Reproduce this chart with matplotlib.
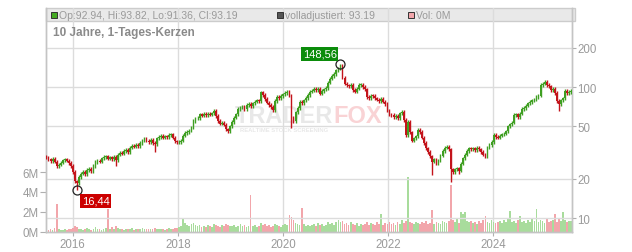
import numpy as np
import pandas as pd
import matplotlib
matplotlib.use('Agg')
import matplotlib.pyplot as plt
import matplotlib.dates as mdates
from matplotlib.patches import Rectangle

plt.rcParams['font.family'] = ['Liberation Sans', 'DejaVu Sans']

# ── data: closes, roughly one candle per two weeks ─────────────────────────────
close_blocks = [
    [29.0, 28.0, 27.2, 28.3, 27.0, 24.8, 25.5, 26.5, 27.6, 28.0, 27.4, 26.3, 25.0],
    [22.5, 19.0, 18.5, 20.5, 21.8, 22.5, 21.5, 23.2, 23.8, 22.8, 25.0, 26.8, 27.2],
    [27.0, 28.5, 29.2, 29.6, 28.4, 29.0, 28.3, 29.4, 27.5, 30.5, 31.5, 31.0, 32.5],
    [33.0, 32.0, 34.5, 35.5, 35.0, 36.0, 35.5, 37.5, 39.0, 40.0, 39.0, 38.0, 39.5],
    [37.5, 36.5, 40.5, 41.5, 42.5, 41.0, 42.0, 41.5, 43.0, 43.5, 41.0, 38.5, 37.8],
    [38.0, 39.0, 42.5, 44.5, 45.5, 46.5, 49.0, 55.0, 57.5, 58.0, 62.0, 60.5, 62.5],
    [61.0, 62.5, 61.5, 63.0, 66.0, 60.0, 55.0, 52.5, 53.5, 51.5, 47.5, 46.0, 50.0],
    [54.0, 58.5, 62.0, 68.0, 69.5, 70.5, 68.0, 73.0, 74.5, 71.5, 75.0, 77.5, 79.0],
    [78.0, 91.0, 87.0, 81.0, 76.0, 73.0, 70.5, 66.5, 78.0, 84.0, 82.0, 85.5, 88.0],
    [90.0, 91.5, 86.0, 58.0, 55.0, 64.0, 69.0, 77.0, 75.5, 79.0, 82.5, 87.0, 92.0],
    [94.0, 96.5, 94.5, 97.0, 89.0, 93.5, 96.0, 98.0, 108.0, 116.0, 121.0, 126.0, 134.0],
    [138.0, 145.0, 118.0, 106.0, 103.0, 101.0, 104.5, 95.0, 92.0, 97.0, 103.5, 104.0, 100.0],
    [96.0, 84.0, 82.0, 86.0, 85.5, 82.0, 80.0, 78.0, 81.0, 77.5, 74.0, 66.0, 62.0],
    [61.0, 59.0, 60.5, 58.0, 63.0, 64.5, 56.0, 43.0, 54.0, 45.0, 39.0, 40.5, 42.0],
    [47.0, 45.5, 41.0, 37.5, 34.0, 32.0, 29.5, 27.0, 28.0, 26.0, 27.5, 30.0, 32.5],
    [34.5, 35.0, 33.5, 23.5, 22.5, 23.5, 24.0, 23.0, 26.0, 28.5, 30.5, 32.5, 34.0],
    [33.5, 34.0, 33.0, 34.5, 33.5, 32.0, 30.5, 29.5, 34.5, 36.0, 38.0, 43.0, 41.5],
    [41.0, 42.5, 43.5, 44.0, 46.0, 50.0, 52.0, 53.5, 61.0, 62.0, 59.0, 62.5, 68.0],
    [69.0, 72.0, 75.0, 77.0, 79.0, 80.5, 84.0, 86.0, 104.0, 106.0, 110.0, 104.0, 101.0],
    [95.0, 97.0, 90.0, 78.0, 74.0, 79.0, 82.0, 93.0, 90.0, 91.5, 93.19],
]

# volume in millions (per candle)
vol_blocks = [
    [0.3, 0.2, 0.35, 0.25, 0.4, 2.8, 0.3, 0.2, 0.25, 0.3, 0.2, 0.35, 0.3],
    [0.4, 0.6, 0.5, 0.3, 0.35, 0.25, 0.3, 0.4, 0.3, 0.25, 0.35, 0.5, 0.3],
    [0.3, 0.25, 0.35, 0.4, 2.3, 0.35, 0.5, 0.3, 0.6, 0.4, 0.3, 0.35, 0.25],
    [0.3, 0.35, 0.3, 0.4, 0.25, 0.3, 0.35, 0.3, 0.4, 0.3, 0.3, 0.35, 0.3],
    [0.3, 0.4, 0.35, 0.3, 0.3, 0.35, 0.25, 0.3, 0.4, 0.35, 0.3, 0.45, 0.4],
    [0.5, 0.6, 1.4, 0.9, 0.7, 0.6, 0.8, 0.9, 0.7, 0.6, 0.7, 0.5, 0.6],
    [0.5, 0.7, 0.6, 0.5, 0.8, 0.7, 0.6, 0.5, 0.7, 0.6, 0.8, 0.7, 0.6],
    [0.6, 0.7, 0.5, 0.6, 0.8, 0.6, 0.7, 0.5, 0.6, 3.7, 0.6, 0.7, 0.5],
    [0.6, 0.9, 0.7, 0.8, 0.6, 0.7, 0.5, 0.6, 0.8, 0.7, 0.6, 0.5, 0.7],
    [0.8, 0.7, 1.7, 1.5, 1.2, 0.9, 0.8, 0.7, 2.4, 0.8, 0.6, 0.7, 0.6],
    [0.7, 0.8, 0.6, 0.9, 0.7, 0.8, 0.6, 0.7, 1.0, 0.8, 0.9, 0.7, 1.0],
    [1.2, 1.0, 1.1, 0.8, 0.9, 0.7, 1.0, 0.8, 0.7, 0.9, 0.6, 0.8, 0.7],
    [0.8, 1.0, 0.7, 0.9, 0.8, 0.7, 1.0, 0.8, 1.8, 0.7, 0.9, 0.8, 1.0],
    [0.8, 0.9, 0.7, 1.0, 0.8, 1.2, 0.9, 1.1, 5.5, 1.0, 0.9, 0.8, 1.0],
    [0.9, 0.8, 1.0, 0.9, 1.1, 0.8, 0.9, 2.2, 0.8, 1.0, 0.9, 0.8, 1.1],
    [1.0, 0.9, 1.1, 4.7, 1.2, 1.0, 1.3, 0.9, 2.0, 1.8, 2.0, 1.1, 1.0],
    [1.1, 0.9, 1.0, 0.8, 1.1, 0.9, 1.2, 1.6, 1.0, 0.9, 1.2, 1.0, 0.9],
    [1.0, 1.1, 0.9, 1.2, 1.0, 1.3, 2.1, 1.0, 1.1, 0.9, 1.2, 1.6, 1.0],
    [1.1, 0.9, 1.2, 1.0, 1.3, 1.1, 2.3, 1.0, 1.2, 1.1, 0.9, 1.3, 1.0],
    [1.1, 1.2, 1.8, 1.0, 1.3, 1.1, 2.0, 1.2, 1.0, 1.1, 1.1],
]

# spike wicks (candle index -> price)
low_spikes = {15: 16.44, 34: 25.0, 53: 32.0, 89: 44.5, 120: 48.5,
              189: 21.3, 198: 18.8, 202: 21.5, 251: 66.0}
high_spikes = {144: 148.56}

peak_idx, peak_val = 144, 148.56
low_idx, low_val = 15, 16.44

close = np.array(sum(close_blocks, []))
vol = np.array(sum(vol_blocks, [])) * 1e6
dates = pd.date_range('2015-07-04', '2025-06-24', periods=len(close))
x = mdates.date2num(dates)

opens = np.r_[close[0] * 1.01, close[:-1]]
hi = np.maximum(opens, close) * 1.03
lo = np.minimum(opens, close) * 0.97
for k, v in low_spikes.items():
    lo[k] = v
for k, v in high_spikes.items():
    hi[k] = v
up = close >= opens

GREEN = '#3f9f22'
RED = '#c3141b'
VGREEN = '#a8dc9c'
VPINK = '#f2a6ab'
GRID = '#dcdcdc'
TXT = '#9a9a9a'

# ── figure ────────────────────────────────────────────────────────────────────
fig = plt.figure(figsize=(6.32, 2.53), dpi=100)
L, R, B, T = 46, 572, 233, 9
ax_v = fig.add_axes([L / 632, (253 - B) / 253, (R - L) / 632, (B - T) / 253])
ax_p = ax_v.twinx()

xlim = (mdates.date2num(pd.Timestamp('2015-07-01')), mdates.date2num(pd.Timestamp('2025-06-30')))

# volume (left axis)
ax_v.bar(x, vol, width=12, color=np.where(up, VGREEN, VPINK), linewidth=0, zorder=2)
ax_v.set_ylim(0, 22.4e6)
ax_v.set_yticks([0, 2e6, 4e6, 6e6])
ax_v.set_yticklabels(['0M', '2M', '4M', '6M'])
ax_v.set_xlim(xlim)

# header band
ax_v.add_patch(Rectangle((0, (B - 22) / (B - T)), 1.006, (22 - T) / (B - T),
                         transform=ax_v.transAxes, facecolor='#e9e9e9',
                         edgecolor='#cccccc', linewidth=1, clip_on=False, zorder=0.5))

# vertical gridlines
years = [pd.Timestamp(f'{y}-01-01') for y in range(2016, 2026, 2)]
for yr in years:
    ax_v.axvline(mdates.date2num(yr), color=GRID, lw=1, zorder=1)

# price (right axis, log)
ax_p.set_yscale('log')
ax_p.set_ylim(7.82, 401)
ax_p.set_yticks([10, 20, 50, 100, 200])
ax_p.set_yticklabels(['10', '20', '50', '100', '200'])
ax_p.yaxis.set_minor_locator(matplotlib.ticker.NullLocator())
for lev in [10, 20, 50, 100, 200]:
    ax_p.axhline(lev, color=GRID, lw=1, zorder=1)

cols = np.where(up, GREEN, RED)
ax_p.vlines(x, lo, hi, colors=cols, lw=1.0, zorder=3)
body_lo = np.minimum(opens, close)
body_h = np.maximum(np.abs(close - opens), close * 0.015)
ax_p.bar(x, body_h, bottom=body_lo, width=12, color=cols, linewidth=0, zorder=3)
ax_p.set_xlim(xlim)

# watermark
def fx(px):
    return (px - L) / (R - L)

def fy(py):
    return (B - py) / (B - T)

ax_p.text(fx(284), fy(117), 'TRADER', transform=ax_p.transAxes, ha='center', va='center',
          fontsize=17, fontweight='bold', color='#e8e8e8', zorder=2)
ax_p.text(fx(358), fy(117), 'FOX', transform=ax_p.transAxes, ha='center', va='center',
          fontsize=17, fontweight='bold', color='#f9d3d5', zorder=2)
ax_p.text(fx(284), fy(130), 'REALTIME STOCK SCREENING', transform=ax_p.transAxes,
          ha='center', va='center', fontsize=4.2, fontweight='bold', color='#e8e8e8', zorder=2)

# extreme markers
for idx, val, dxy, fc in [(peak_idx, peak_val, (-15, 7.6), '#0b8c0b'),
                          (low_idx, low_val, (13.5, -8), '#cc0000')]:
    ax_p.plot(x[idx], val, 'o', mfc='none', mec='#222222', ms=6.5, mew=0.9, zorder=5)
    ax_p.annotate(f'{val:.2f}'.replace('.', ','), (x[idx], val), xytext=dxy,
                  textcoords='offset points', ha='center', va='center', fontsize=8,
                  color='white', zorder=6,
                  bbox=dict(boxstyle='square,pad=0.15', fc=fc, ec='none'))

# header legend + title
hy = fy(16)
for sx, fc, label in [(51, '#44aa22', 'Op:92.94, Hi:93.82, Lo:91.36, Cl:93.19'),
                      (277, '#555555', 'volladjustiert: 93.19'),
                      (408, '#f2a6ab', 'Vol: 0M')]:
    ax_p.add_patch(Rectangle((fx(sx), fy(19)), 6 / (R - L), 6 / (B - T),
                             transform=ax_p.transAxes, facecolor=fc,
                             edgecolor='#333333', linewidth=0.7, zorder=4, clip_on=False))
    ax_p.text(fx(sx + 8), hy, label, transform=ax_p.transAxes, ha='left', va='center',
              fontsize=7.5, color=TXT, zorder=4)
ax_p.text(fx(53), fy(33), '10 Jahre, 1-Tages-Kerzen', transform=ax_p.transAxes,
          ha='left', va='center', fontsize=8.5, fontweight='bold', color='#8a8a8a', zorder=4)

# axes styling
ax_v.xaxis.set_major_locator(mdates.YearLocator(2))
ax_v.xaxis.set_major_formatter(mdates.DateFormatter('%Y'))
for a in (ax_v, ax_p):
    for s in a.spines.values():
        s.set_color('#c4c4c4')
        s.set_linewidth(1)
    a.spines['top'].set_visible(False)
ax_v.tick_params(axis='y', length=4, color='#b0b0b0', labelcolor=TXT, labelsize=8.3, pad=1)
ax_p.tick_params(axis='y', length=3, color='#b0b0b0', labelcolor=TXT, labelsize=8.3, pad=1)
ax_v.tick_params(axis='x', length=3, color='#b0b0b0', labelcolor=TXT, labelsize=8.3, pad=1)

fig.savefig('out.png', dpi=100)
